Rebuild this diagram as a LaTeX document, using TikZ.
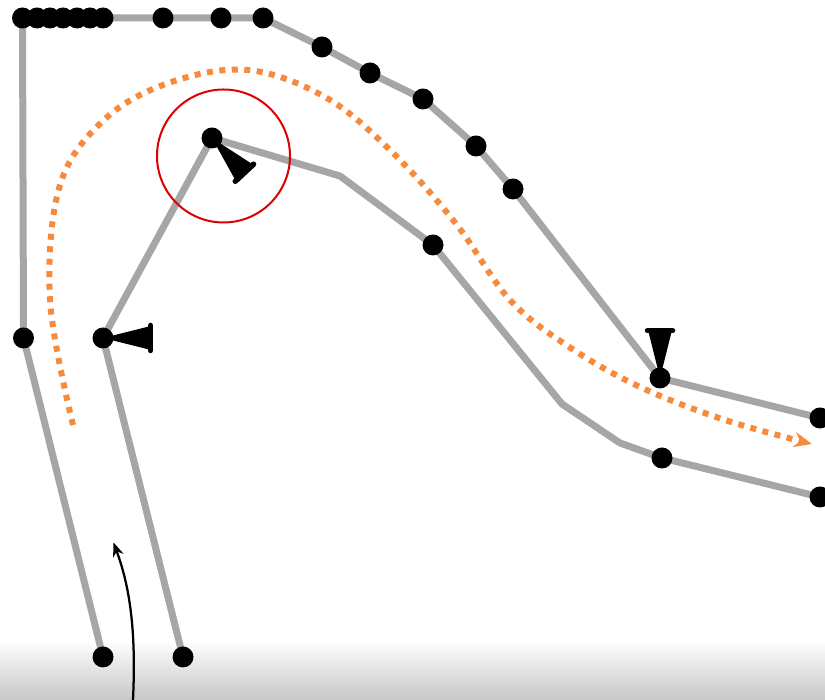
\documentclass[tikz,border=0pt]{standalone}
\definecolor{trackgray}{HTML}{A6A6A6}
\definecolor{lineorange}{HTML}{F78B3D}
\definecolor{apexred}{HTML}{DD0000}
\usepackage{xcolor}
\usepackage{tikz}
\usetikzlibrary{arrows.meta, positioning}

\begin{document}
\begin{tikzpicture}[
      track/.style={trackgray, line width=0.14cm, line join=round},
      dot/.style={circle, fill=black, inner sep=0pt, minimum size=0.42cm},
      racing/.style={lineorange, line width=0.12cm, dash pattern=on 0.12cm off 0.13cm, -{Stealth[length=0.36cm, width=0.3cm]}},
      apex/.style={draw=apexred, line width=0.04cm, circle, inner sep=0pt, minimum size=2.66cm},
      cone/.pic={
        \fill (0,0) -- (0.92,0.23) -- (0.92,-0.23) -- cycle;
        \draw[line width=0.11cm, line cap=round] (0.95,0.25) -- (0.95,-0.25);
      }
    ]
  \useasboundingbox (0,0) rectangle (16.5,14);
  \shade[top color=white, bottom color=black!22] (0,0) rectangle (16.5,1.2);

  \foreach \n/\x/\y in {o1/2.06/0.86, o2/0.47/7.24, o3/0.45/13.64, o4/5.26/13.64,
      o5/6.44/13.06, o6/7.40/12.54, o7/8.46/12.02, o8/9.52/11.08, o9/10.26/10.22,
      o10/13.20/6.44, o11/16.40/5.64,
      i1/3.66/0.86, i2/2.06/7.24, i3/4.24/11.24, i4/6.80/10.48, i5/8.66/9.10,
      i6/11.24/5.92, i7/12.40/5.14, i8/13.24/4.84, i9/16.40/4.06}
    \coordinate (\n) at (\x,\y);

  \draw[track] (o1) -- (o2) -- (o3) -- (o4) -- (o5) -- (o6) -- (o7) -- (o8) -- (o9) -- (o10) -- (o11);
  \draw[track] (i1) -- (i2) -- (i3) -- (i4) -- (i5) -- (i6) -- (i7) -- (i8) -- (i9);

  \draw[racing] plot[smooth, tension=0.6] coordinates {(1.46,5.50) (1.00,8.00) (1.20,10.30)
      (2.10,11.62) (3.40,12.35) (4.96,12.60) (6.50,12.06) (7.80,11.00) (9.10,9.55)
      (10.20,8.00) (11.40,7.05) (12.80,6.26) (14.50,5.60) (16.24,5.12)};

  \node[apex] (zone) at (4.47,10.88) {};

  \pic at (i2) {cone};
  \pic[rotate=90] at (o10) {cone};
  \pic[rotate=-47] at (i3) {cone};

  \foreach \p in {o1,o2,o3,o4,o5,o6,o7,o8,o9,o10,o11,i1,i2,i3,i5,i8,i9}
    \node[dot] (d\p) at (\p) {};
  \foreach \x [count=\k] in {0.74,1.00,1.26,1.54,1.80,2.06,3.26,4.42}
    \node[dot] (t\k) at (\x,13.64) {};

  \coordinate (start) at (2.66,0);
  \coordinate (tip) at (2.27,3.15);
  \draw[-{Stealth[length=0.28cm, width=0.22cm]}, line width=0.045cm] (start) .. controls (2.72,1.3) and (2.62,2.2) .. (tip);
\end{tikzpicture}
\end{document}
